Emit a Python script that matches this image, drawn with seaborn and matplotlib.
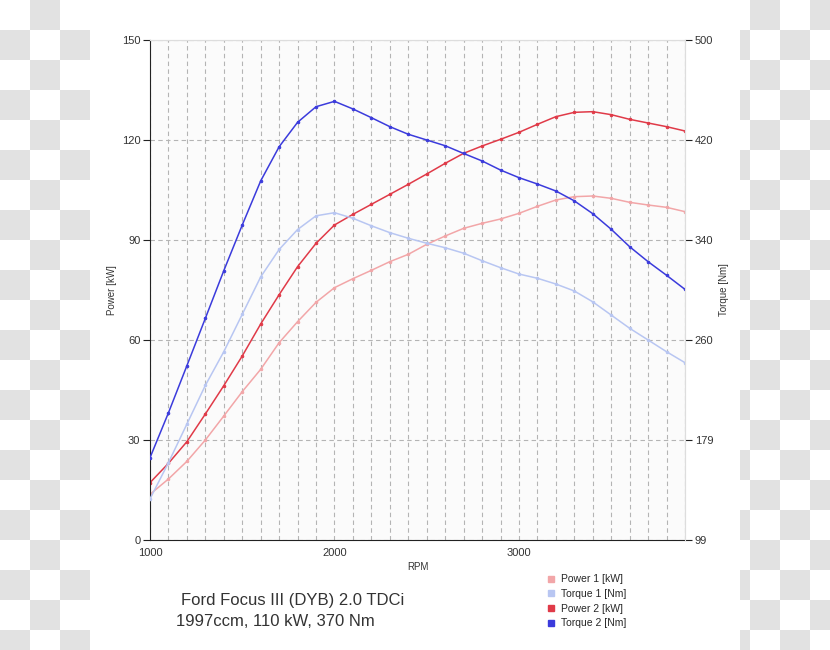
import numpy as np
import pandas as pd
import matplotlib
matplotlib.use("Agg")
import matplotlib.pyplot as plt
from matplotlib.lines import Line2D
import seaborn as sns

# values, one point every 100 rpm
rpm = list(range(1000, 4000, 100))
power_1 = [13.7, 18.3, 23.6, 30.0, 37.2, 44.5, 51.2, 59.2, 65.5, 71.3,
           75.7, 78.4, 80.9, 83.5, 85.7, 88.7, 91.2, 93.5, 95.0, 96.3,
           98.0, 100.1, 102.0, 103.0, 103.2, 102.5, 101.3, 100.5, 99.8, 98.5]
torque_1 = [132, 161, 192, 223, 250, 280, 310, 332, 348, 359,
            361.5, 357, 351, 345.5, 341, 337, 333.4, 329, 323, 317.4,
            312.3, 308.9, 304.3, 298.7, 290, 279.4, 268.8, 259.4, 250, 241.2]
power_2 = [17.2, 23.0, 29.5, 37.8, 46.3, 55.2, 64.8, 73.6, 82.0, 89.0,
           94.5, 97.7, 100.7, 103.7, 106.7, 109.8, 113.0, 116.0, 118.2, 120.2,
           122.3, 124.7, 127.0, 128.3, 128.5, 127.6, 126.2, 125.1, 124.0, 122.7]
torque_2 = [165, 201, 238.8, 276.8, 315, 351.6, 387, 414.4, 434, 446.5,
            450.8, 444.7, 437.7, 430.5, 424.4, 419.8, 415.2, 409, 403, 395.7,
            389.6, 384.5, 378.9, 371, 360.7, 348.2, 334.2, 322.2, 311.3, 300]

power_ticks = [0, 30, 60, 90, 120, 150]
torque_labels = ["99", "179", "260", "340", "420", "500"]
rpm_labels = [1000, 2000, 3000]

series = ["Power 1 [kW]", "Torque 1 [Nm]", "Power 2 [kW]", "Torque 2 [Nm]"]
colors = ["#f2a6a8", "#b8c6f2", "#e03a48", "#3b3bdc"]

df = pd.DataFrame({"rpm": rpm, "p1": power_1, "t1": torque_1,
                   "p2": power_2, "t2": torque_2})

sns.set_style("white")
plt.rcParams["font.family"] = ["Liberation Sans", "DejaVu Sans"]

fig = plt.figure(figsize=(8.3, 6.5), dpi=100)

# transparent-png style checkerboard on the sides
h, w = 650, 830
yy, xx = np.mgrid[0:h, 0:w]
bg = np.ones((h, w, 3))
mask = (((yy // 30) + (xx // 30)) % 2 == 1) & ((xx < 90) | (xx >= 740))
bg[mask] = 0.89
fig.figimage(bg, 0, 0, origin="upper", zorder=-10)

ax = fig.add_axes([150 / 830, 1 - 540 / 650, 535 / 830, 500 / 650])
ax.set_facecolor("#fbfbfb")
ax2 = ax.twinx()

sns.lineplot(data=df, x="rpm", y="p1", ax=ax, color=colors[0], lw=1.1,
             marker="o", ms=1.8, mec=colors[0])
sns.lineplot(data=df, x="rpm", y="p2", ax=ax, color=colors[2], lw=1.1,
             marker="o", ms=1.8, mec=colors[2])
sns.lineplot(data=df, x="rpm", y="t1", ax=ax2, color=colors[1], lw=1.1,
             marker="o", ms=1.8, mec=colors[1])
sns.lineplot(data=df, x="rpm", y="t2", ax=ax2, color=colors[3], lw=1.1,
             marker="o", ms=1.8, mec=colors[3])

ax.set_xlim(1000, 3900)
ax.set_ylim(0, 150)
ax2.set_ylim(99, 500)
ax.set_xticks(rpm_labels)
ax.set_xticks(rpm, minor=True)
ax.set_yticks(power_ticks)
ax2.set_yticks(np.linspace(99, 500, len(torque_labels)))
ax2.set_yticklabels(torque_labels)

ax.grid(True, which="both", axis="x", color="#b4b4b4", ls=(0, (4, 3)), lw=0.8)
ax.grid(True, which="major", axis="y", color="#b4b4b4", ls=(0, (4, 3)), lw=0.8)
ax.set_axisbelow(True)

for a in (ax, ax2):
    a.spines["top"].set_color("#dddddd")
    a.spines["right"].set_color("#dddddd")
    a.spines["left"].set_color("#222222")
    a.spines["bottom"].set_color("#222222")
ax2.spines["left"].set_visible(False)
ax2.spines["bottom"].set_visible(False)

ax.tick_params(axis="x", which="both", direction="inout", length=9, width=0.8,
               color="#222222", labelsize=8, labelcolor="#333333", pad=1)
ax.tick_params(axis="y", direction="out", length=5, width=0.8,
               color="#222222", labelsize=8, labelcolor="#333333", pad=2)
ax2.tick_params(axis="y", direction="out", length=5, width=0.8,
                color="#222222", labelsize=8, labelcolor="#333333", pad=2)

ax.set_xlabel("RPM", fontsize=7, color="#333333", labelpad=3)
ax.set_ylabel("Power [kW]", fontsize=7, color="#333333", labelpad=3)
ax2.set_ylabel("Torque [Nm]", fontsize=7, color="#333333", labelpad=4)

handles = [Line2D([], [], ls="none", marker="s", ms=4, color=c) for c in colors]
fig.legend(handles, series, loc="upper left",
           bbox_to_anchor=(543 / 830, 1 - 570 / 650), frameon=False,
           fontsize=7.5, handlelength=0.8, handletextpad=0.5, labelspacing=0.45,
           borderaxespad=0)

fig.text(181 / 830, 1 - 601 / 650, "Ford Focus III (DYB) 2.0 TDCi",
         fontsize=12, color="#333333", va="center")
fig.text(176 / 830, 1 - 622 / 650, "1997ccm, 110 kW, 370 Nm",
         fontsize=12, color="#333333", va="center")

fig.savefig("out.png", dpi=100)
